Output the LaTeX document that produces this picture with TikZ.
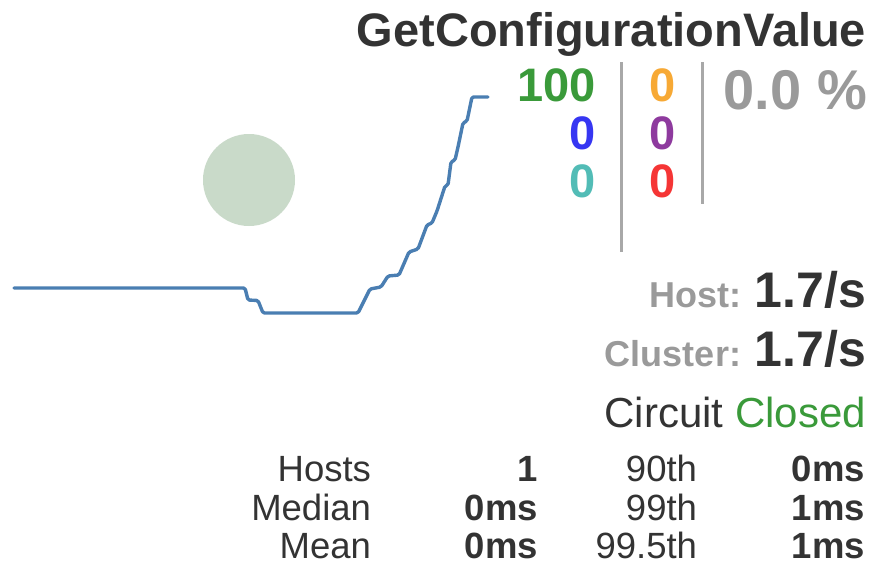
\documentclass[tikz,border=0pt]{standalone}
\usepackage{fontspec}
\setmainfont{Liberation Sans}
\definecolor{txtdark}{HTML}{333333}
\definecolor{txtgray}{HTML}{9A9A9A}
\definecolor{rulegray}{HTML}{A8A8A8}
\definecolor{okgreen}{HTML}{3A9A3A}
\definecolor{cntblue}{HTML}{3636F2}
\definecolor{cntcyan}{HTML}{52BCB6}
\definecolor{cntorange}{HTML}{F7A935}
\definecolor{cntpurple}{HTML}{8E3A9E}
\definecolor{cntred}{HTML}{F53535}
\definecolor{sparkblue}{HTML}{4A7EB2}
\definecolor{ratefill}{HTML}{C9DAC9}
\newcommand{\fs}[1]{\fontsize{#1}{#1}\selectfont}
\begin{document}
\begin{tikzpicture}[x=1pt,y=-1pt,
  lbl/.style={anchor=base east,inner sep=0pt,outer sep=0pt,text=txtdark},
  counter/.style={lbl,font=\fs{47}\bfseries},
  tab/.style={lbl,font=\fs{36.5}},
  tabval/.style={lbl,font=\fs{36.5}\bfseries},
  sep/.style={draw=rulegray,line width=3pt}]
\useasboundingbox[fill=white] (0,0) rectangle (873,562);

% rate circle
\fill[ratefill] (249,180) circle (46);

% sparkline of request volume
\draw[sparkblue,line width=3.4pt,rounded corners=1.5pt,line join=round,line cap=round]
  (14,288) -- (245,288) -- (248,300) -- (258,300.5) -- (263,313)
  -- (358,313) -- (370,289) -- (381,287) -- (388,276) -- (399,275)
  -- (409,252) -- (418,249) -- (427,225) -- (432,223) -- (437,211)
  -- (445,186) -- (448,185) -- (451,162) -- (455,160) -- (458,147)
  -- (463,123) -- (467,121) -- (472,97) -- (488,97);

% title
\node[lbl,font=\fs{47}\bfseries] (title) at (866,46) {GetConfigurationValue};

% counters
\node[counter,text=okgreen]   (success) at (596,101) {100};
\node[counter,text=cntblue]   (shortc)  at (596,149) {0};
\node[counter,text=cntcyan]   (badreq)  at (596,197) {0};
\node[counter,text=cntorange] (timeout) at (676,101) {0};
\node[counter,text=cntpurple] (reject)  at (676,149) {0};
\node[counter,text=cntred]    (failure) at (676,197) {0};

% separators
\draw[sep] (621,62) -- (621,252);
\draw[sep] (702,62) -- (702,204);

% error percentage
\node[lbl,font=\fs{56}\bfseries,text=txtgray] (errpct) at (867,109) {0.0 \%};

% rates
\node[lbl,font=\fs{50}\bfseries] (hostval) at (866,307) {1.7/s};
\node[lbl,font=\fs{36}\bfseries,text=txtgray] (hostlbl) at (741,307) {Host:};
\node[lbl,font=\fs{50}\bfseries] (clusterval) at (866,366) {1.7/s};
\node[lbl,font=\fs{36}\bfseries,text=txtgray] (clusterlbl) at (741,366) {Cluster:};

% circuit status
\node[lbl,font=\fs{42}] (circuit) at (866,427) {Circuit \textcolor{okgreen}{Closed}};

% latency table
\node[tab] (hosts)   at (371,481) {Hosts};
\node[tab] (median)  at (371,520) {Median};
\node[tab] (mean)    at (371,558) {Mean};
\node[tabval] (hostsv)  at (538,481) {1};
\node[tabval] (medianv) at (538,520) {0ms};
\node[tabval] (meanv)   at (538,558) {0ms};
\node[tab] (p90)   at (697,481) {90th};
\node[tab] (p99)   at (697,520) {99th};
\node[tab] (p995)  at (697,558) {99.5th};
\node[tabval] (p90v)  at (865,481) {0ms};
\node[tabval] (p99v)  at (865,520) {1ms};
\node[tabval] (p995v) at (865,558) {1ms};
\end{tikzpicture}
\end{document}
